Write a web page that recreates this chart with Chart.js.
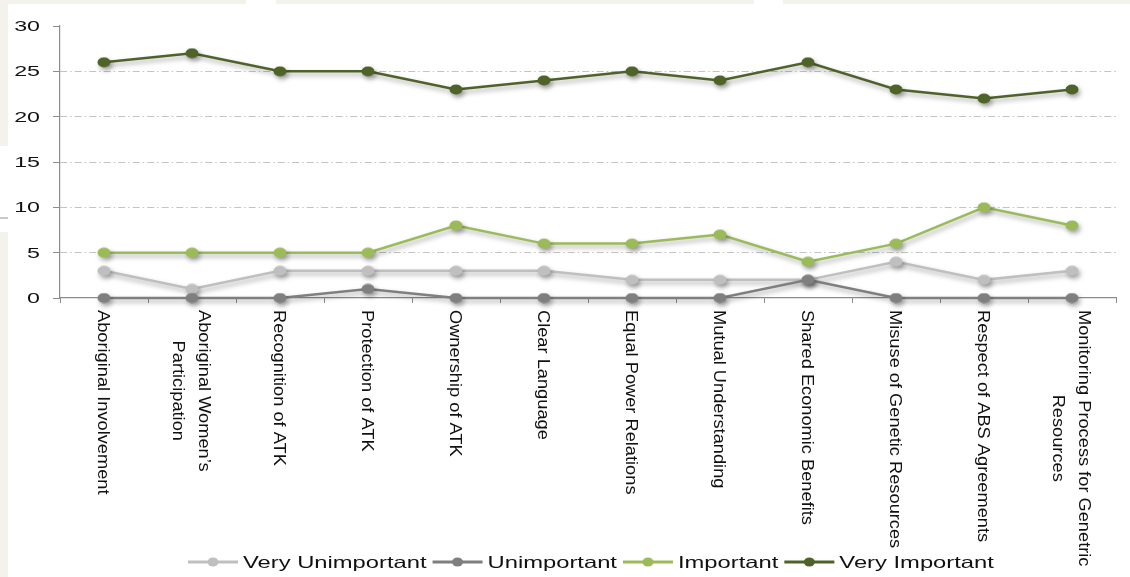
<!DOCTYPE html>
<html>
<head>
<meta charset="utf-8">
<script src="https://cdn.jsdelivr.net/npm/chart.js@4"></script>
<style>
  html, body { margin: 0; padding: 0; }
  body { width: 1130px; height: 577px; background: #f3f2eb; position: relative; overflow: hidden; }
  .panel { position: absolute; background: #ffffff; }
  #wrap { position: absolute; left: 0; top: 0; width: 1130px; height: 577px; }
</style>
</head>
<body>
<div class="panel" style="left:8px;top:4px;right:0;bottom:0"></div>
<div class="panel" style="left:246px;top:0;width:30px;height:4px"></div>
<div class="panel" style="left:754px;top:0;width:29px;height:4px"></div>
<div class="panel" style="left:0;top:146px;width:8px;height:86px"></div>
<div style="position:absolute;left:0;top:217px;width:8px;height:2px;background:#c9c9c9"></div>
<div id="wrap"><canvas id="c"></canvas></div>
<script>
// Survey categories (x axis)
const categories = [
  'Aboriginal Involvement',
  ['Aboriginal Women\u2019s', 'Participation'],
  'Recognition of ATK',
  'Protection of ATK',
  'Ownership of ATK',
  'Clear Language',
  'Equal Power Relations',
  'Mutual Understanding',
  'Shared Economic Benefits',
  'Misuse of Genetic Resources',
  'Respect of ABS Agreements',
  ['Monitoring Process for Genetric', 'Resources']
];

// Number of responses per rating
const veryUnimportant = [3, 1, 3, 3, 3, 3, 2, 2, 2, 4, 2, 3];
const unimportant     = [0, 0, 0, 1, 0, 0, 0, 0, 2, 0, 0, 0];
const important       = [5, 5, 5, 5, 8, 6, 6, 7, 4, 6, 10, 8];
const veryImportant   = [26, 27, 25, 25, 23, 24, 25, 24, 26, 23, 22, 23];

// Value axis
const yTicks = [0, 5, 10, 15, 20, 25, 30];

const seriesNames  = ['Very Unimportant', 'Unimportant', 'Important', 'Very Important'];
const seriesColors = ['#bfbfbf', '#7f7f7f', '#9bbb59', '#4f6228'];
const seriesData   = [veryUnimportant, unimportant, important, veryImportant];
const drawOrder    = [1, 0, 2, 3];

const FONT = '"Liberation Sans", Arial, sans-serif';

// Slightly wide elliptical marker
function makeDot(color) {
  const c = document.createElement('canvas');
  c.width = 14; c.height = 11;
  const g = c.getContext('2d');
  g.fillStyle = color;
  g.beginPath();
  g.ellipse(7, 5.5, 6.5, 5, 0, 0, Math.PI * 2);
  g.fill();
  return c;
}

const datasets = seriesNames.map((name, i) => ({
  label: name,
  data: seriesData[i],
  borderColor: seriesColors[i],
  backgroundColor: seriesColors[i],
  borderWidth: 2.5,
  tension: 0,
  pointStyle: makeDot(seriesColors[i]),
  pointRadius: 6,
  pointHoverRadius: 6,
  order: drawOrder[i],
  clip: false
}));

const softShadow = {
  id: 'softShadow',
  beforeDatasetDraw(chart) {
    const ctx = chart.ctx;
    ctx.save();
    ctx.shadowColor = 'rgba(0,0,0,0.35)';
    ctx.shadowBlur = 5;
    ctx.shadowOffsetX = 2;
    ctx.shadowOffsetY = 3;
  },
  afterDatasetDraw(chart) {
    chart.ctx.restore();
  }
};

const textLayer = {
  id: 'textLayer',
  afterDraw(chart) {
    const ctx = chart.ctx;
    const xs = chart.scales.x, ys = chart.scales.y;
    ctx.save();
    ctx.fillStyle = '#111111';

    // value labels
    ctx.font = '15px ' + FONT;
    ctx.textAlign = 'right';
    ctx.textBaseline = 'middle';
    yTicks.forEach(v => {
      const py = ys.getPixelForValue(v);
      ctx.save();
      ctx.translate(40, py + 1);
      ctx.scale(1.55, 1);
      ctx.fillText(String(v), 0, 0);
      ctx.restore();
    });

    // category labels, reading downward
    ctx.font = '16px ' + FONT;
    ctx.textAlign = 'center';
    ctx.textBaseline = 'middle';
    const stretch = 1.14;
    categories.forEach((lab, i) => {
      const lines = Array.isArray(lab) ? lab : [lab];
      const px = xs.getPixelForValue(i);
      const maxW = Math.max(...lines.map(l => ctx.measureText(l).width));
      ctx.save();
      ctx.translate(px, xs.top);
      ctx.rotate(Math.PI / 2);
      ctx.scale(stretch, 1);
      const cx = 12 / stretch + maxW / 2;
      lines.forEach((l, j) => {
        ctx.fillText(l, cx, (j - (lines.length - 1) / 2) * 26 + 2);
      });
      ctx.restore();
    });

    // legend
    ctx.font = '16.5px ' + FONT;
    ctx.textAlign = 'left';
    ctx.textBaseline = 'middle';
    const lsx = 1.44, lineLen = 50, gap = 5, itemGap = 6, ly = 562;
    let cur = 188;
    chart.data.datasets.forEach(ds => {
      ctx.strokeStyle = ds.borderColor;
      ctx.lineWidth = 3;
      ctx.beginPath();
      ctx.moveTo(cur, ly);
      ctx.lineTo(cur + lineLen, ly);
      ctx.stroke();
      ctx.fillStyle = ds.borderColor;
      ctx.beginPath();
      ctx.ellipse(cur + lineLen / 2, ly, 5.5, 4.5, 0, 0, Math.PI * 2);
      ctx.fill();
      const tx = cur + lineLen + gap;
      ctx.fillStyle = '#111111';
      ctx.save();
      ctx.translate(tx, ly + 1);
      ctx.scale(lsx, 1);
      ctx.fillText(ds.label, 0, 0);
      ctx.restore();
      cur = tx + ctx.measureText(ds.label).width * lsx + itemGap;
    });
    ctx.restore();
  }
};

new Chart(document.getElementById('c'), {
  type: 'line',
  data: { labels: categories.map(c => Array.isArray(c) ? c.join(' ') : c), datasets },
  options: {
    responsive: true,
    maintainAspectRatio: false,
    animation: false,
    events: [],
    layout: { padding: { top: 26, right: 14, left: 0, bottom: 0 } },
    plugins: { legend: { display: false }, tooltip: { enabled: false } },
    scales: {
      x: {
        type: 'category',
        offset: true,
        afterFit(s) { s.height = 279; },
        ticks: { display: false },
        grid: {
          offset: true,
          drawOnChartArea: false,
          drawTicks: true,
          tickLength: 5,
          tickColor: '#8c8c8c',
          tickWidth: 1
        },
        border: { display: true, color: '#8c8c8c', width: 1.2 }
      },
      y: {
        min: 0,
        max: 30,
        afterFit(s) { s.width = 60; },
        afterBuildTicks(s) { s.ticks = yTicks.map(v => ({ value: v })); },
        ticks: { display: false },
        grid: {
          color: c => (c.tick && (c.tick.value === 0 || c.tick.value === 30)) ? 'rgba(0,0,0,0)' : '#c4c4c4',
          lineWidth: 1,
          drawTicks: true,
          tickLength: 7,
          tickColor: '#8c8c8c',
          tickWidth: 1,
          tickBorderDash: []
        },
        border: { display: true, color: '#8c8c8c', width: 1.2, dash: [7, 3, 1.5, 3] }
      }
    }
  },
  plugins: [softShadow, textLayer]
});
</script>
</body>
</html>
